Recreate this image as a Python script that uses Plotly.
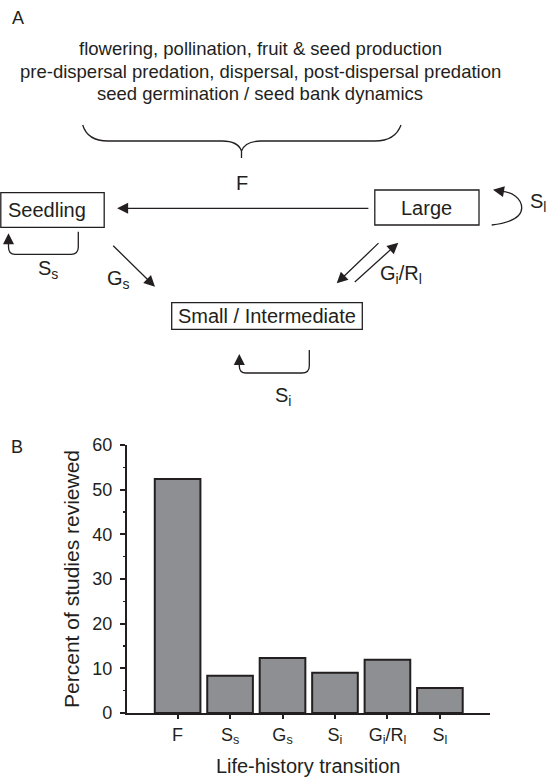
import plotly.graph_objects as go

# ---------------- data ----------------
categories = ["F", "S<sub>s</sub>", "G<sub>s</sub>", "S<sub>i</sub>", "G<sub>i</sub>/R<sub>l</sub>", "S<sub>l</sub>"]
percent_studies = [52.4, 8.3, 12.3, 9.0, 11.9, 5.6]
y_ticks = [0, 10, 20, 30, 40, 50, 60]

description_lines = [
    "flowering, pollination, fruit &amp; seed production",
    "pre-dispersal predation, dispersal, post-dispersal predation",
    "seed germination / seed bank dynamics",
]
stage_labels = ["Seedling", "Large", "Small / Intermediate"]

# ---------------- style ----------------
INK = "#231f20"
BAR = "#8e8f93"
FONT = "Liberation Sans, Arial, Helvetica, sans-serif"
W, H = 548, 779

fig = go.Figure()
xpos = list(range(len(categories)))
fig.add_trace(go.Bar(
    x=xpos, y=percent_studies, width=0.87,
    marker=dict(color=BAR, line=dict(color=INK, width=2)),
    hoverinfo="skip", showlegend=False,
))
# invisible overlay for the diagram (pixel coordinates)
fig.add_trace(go.Scatter(x=[], y=[], xaxis="x2", yaxis="y2", showlegend=False, hoverinfo="skip"))

x_left_px, x_right_px = 126.8, 489.5
y_bot_px, y_top_px = 712.9, 445.0
cat0_px, step_px = 177.6, 52.46

fig.update_layout(
    width=W, height=H,
    margin=dict(l=0, r=0, t=0, b=0, pad=0),
    paper_bgcolor="white", plot_bgcolor="rgba(0,0,0,0)",
    font=dict(family=FONT, color=INK),
    xaxis=dict(
        domain=[x_left_px / W, x_right_px / W],
        range=[(x_left_px - cat0_px) / step_px, (x_right_px - cat0_px) / step_px],
        tickvals=xpos, ticktext=categories,
        ticks="outside", ticklen=4, tickwidth=2, tickcolor=INK,
        showline=True, linewidth=2, linecolor=INK, showgrid=False, zeroline=False,
        tickfont=dict(size=18, family=FONT, color=INK),
        title=dict(text="Life-history transition", font=dict(size=20, family=FONT, color=INK), standoff=13),
        automargin=False, fixedrange=True,
    ),
    yaxis=dict(
        domain=[1 - y_bot_px / H, 1 - y_top_px / H],
        range=[0, 60], tickvals=y_ticks,
        ticks="outside", ticklen=5, tickwidth=2, tickcolor=INK,
        minor=dict(dtick=5, ticks="outside", ticklen=2, tickwidth=1.5, tickcolor=INK),
        showline=True, linewidth=2, linecolor=INK, showgrid=False, zeroline=False,
        tickfont=dict(size=18, family=FONT, color=INK),
        ticklabelstandoff=4,
        title=dict(text="Percent of studies reviewed", font=dict(size=21, family=FONT, color=INK), standoff=7),
        automargin=False, fixedrange=True,
    ),
    xaxis2=dict(domain=[0, 1], range=[0, W], visible=False, anchor="y2", fixedrange=True, automargin=False),
    yaxis2=dict(domain=[0, 1], range=[H, 0], visible=False, anchor="x2", fixedrange=True, automargin=False),
)

shapes = []
def line_path(path, width=1.3):
    shapes.append(dict(type="path", path=path, xref="x2", yref="y2",
                       line=dict(color=INK, width=width), fillcolor="rgba(0,0,0,0)"))

def rect(x0, y0, x1, y1):
    shapes.append(dict(type="rect", x0=x0, y0=y0, x1=x1, y1=y1, xref="x2", yref="y2",
                       line=dict(color=INK, width=1.3), fillcolor="rgba(0,0,0,0)"))

# boxes
rect(0.8, 192.7, 104.2, 227.3)
rect(374.8, 190.0, 479.0, 225.0)
rect(171.7, 302.7, 362.3, 329.3)

# brace
line_path("M 82.7,125 C 86,136 95,141 108,141 L 222,141 C 232,141 239,144 241.5,151 L 241.5,158 "
          "M 241.5,151 C 244,144 251,141 261,141 L 375,141 C 388,141 397,136 401,125")
# loops
line_path("M 78.3,231.7 L 78.3,247 Q 78.3,254.3 71,254.3 L 15,254.3 Q 8.5,254.3 8.5,247 L 8.5,241")
line_path("M 309.3,350 L 309.3,366 Q 309.3,373 302,373 L 246,373 Q 239.3,373 239.3,366 L 239.3,361")
line_path("M 491.7,225 C 508,223 521.7,218 521.7,208 C 521.7,198 512,192 501,191.2")
fig.update_layout(shapes=shapes)

annotations = []
def arrow(tx, ty, hx, hy):
    annotations.append(dict(x=hx, y=hy, ax=tx, ay=ty, xref="x2", yref="y2", axref="x2", ayref="y2",
                            text="", showarrow=True, arrowhead=2, arrowsize=1.7, arrowwidth=1.3,
                            arrowcolor=INK, standoff=0, startstandoff=0))

def label(x, y, text, size=20, anchor="center"):
    annotations.append(dict(x=x, y=y, xref="x2", yref="y2", text=text, showarrow=False,
                            xanchor=anchor, yanchor="middle",
                            font=dict(size=size, family=FONT, color=INK)))

arrow(369.9, 208.3, 117.1, 208.3)          # F
arrow(111.7, 244.3, 155.0, 286.7)          # Gs
arrow(380.0, 241.7, 336.7, 283.3)          # Ri
arrow(353.3, 283.3, 398.3, 242.7)          # Gi
arrow(8.5, 245, 8.5, 233.3)                # Ss head
arrow(239.3, 365, 239.3, 354)              # Si head
arrow(503, 191.5, 493, 189.8)              # Sl head

label(17.5, 18, "A", size=18)
label(16.6, 447, "B", size=18)
for i, (txt, yy) in enumerate(zip(description_lines, [48, 71, 93])):
    label(260, yy, txt, size=18.5)
label(242, 183, "F")
label(46.9, 210, stage_labels[0])
label(426.6, 208, stage_labels[1])
label(267.0, 316, stage_labels[2])
label(48, 269, "S<sub>s</sub>")
label(118, 279, "G<sub>s</sub>")
label(401, 274, "G<sub>i</sub>/R<sub>l</sub>")
label(283, 396, "S<sub>i</sub>")
label(528, 202, "S<sub>l</sub>", anchor="left")
fig.update_layout(annotations=annotations)

fig.write_html(
    "out.html",
    config={"displayModeBar": False, "staticPlot": True},
    post_script="document.body.style.margin='0';document.body.style.overflow='hidden';",
)
